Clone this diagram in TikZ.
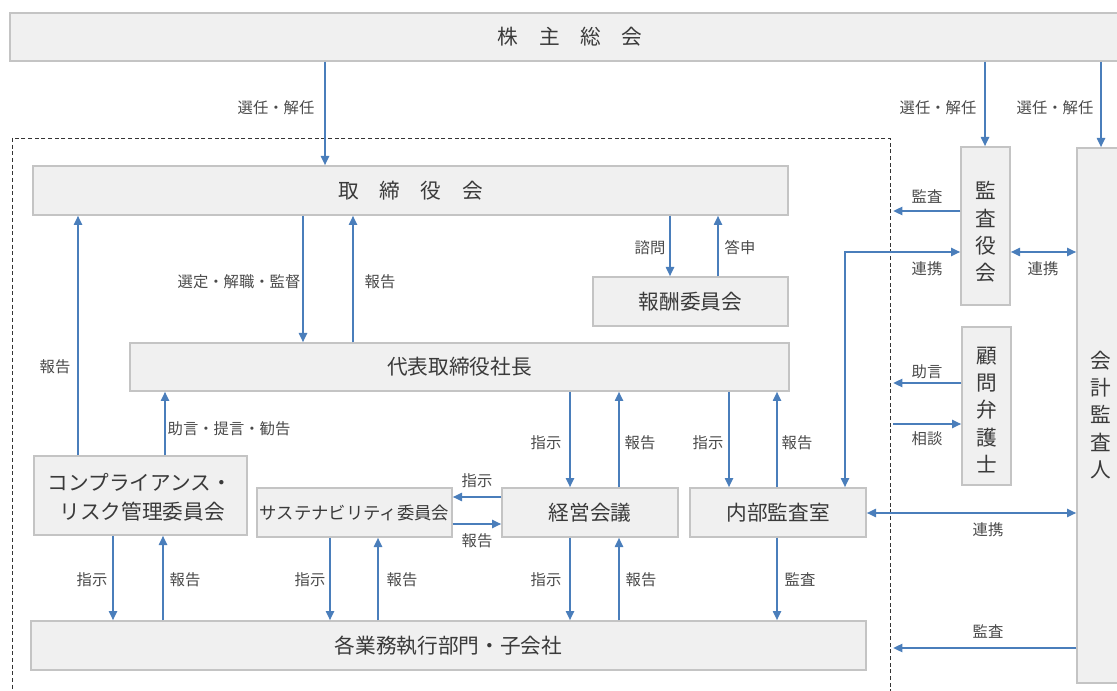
\documentclass[tikz,border=0pt]{standalone}
\usepackage{fontspec}
\setmainfont{Noto Sans CJK JP}
\usetikzlibrary{arrows.meta,fit}
\definecolor{boxfill}{HTML}{F0F0F0}
\definecolor{boxline}{HTML}{C4C4C4}
\definecolor{arrblue}{HTML}{4A7EBB}
\definecolor{txt}{HTML}{3A3A3A}
\definecolor{labtxt}{HTML}{4A4A4A}
\tikzset{
  box/.style={draw=boxline, fill=boxfill, line width=1pt, inner sep=0pt},
  btext/.style={text=txt, inner sep=0pt, font=\fontsize{15.5}{22}\selectfont},
  vtext/.style={btext, align=center, font=\fontsize{15.5}{20.5}\selectfont},
  arr/.style={draw=arrblue, line width=1.7pt, -{Triangle[length=7pt,width=6pt]}},
  darr/.style={draw=arrblue, line width=1.7pt, {Triangle[length=7pt,width=6pt]}-{Triangle[length=7pt,width=6pt]}},
  lab/.style={text=labtxt, font=\fontsize{11.5}{13}\selectfont, inner sep=0pt},
  frame/.style={draw=black!80, line width=0.6pt, densely dashed}
}
\begin{document}
\begin{tikzpicture}[x=0.75pt,y=-0.75pt]
\useasboundingbox (0,0) rectangle (1117,691);
\draw[frame] (12,138) rectangle (890,700);
% boxes
\node[box, fit={(10,13) (1125,61)}] (kabu) {};
\node[box, fit={(33,166) (788,215)}] (tori) {};
\node[box, fit={(593,277) (788,326)}] (hoshu) {};
\node[box, fit={(130,343) (789,391)}] (daihyo) {};
\node[box, fit={(34,456) (247,535)}] (comp) {};
\node[box, fit={(257,488) (452,537)}] (sust) {};
\node[box, fit={(502,488) (678,537)}] (keiei) {};
\node[box, fit={(690,488) (866,537)}] (naibu) {};
\node[box, fit={(31,621) (866,670)}] (kaku) {};
\node[box, fit={(961,147) (1010,305)}] (kansa) {};
\node[box, fit={(962,327) (1011,485)}] (komon) {};
\node[box, fit={(1077,148) (1125,683)}] (kaikei) {};
% box texts
\node[btext] (kabu-t) at (570,37) {株　主　総　会};
\node[btext] (tori-t) at (tori.center) {取　締　役　会};
\node[btext] (hoshu-t) at (hoshu.center) {報酬委員会};
\node[btext] (daihyo-t) at (daihyo.center) {代表取締役社長};
\node[btext] (comp-t1) at (140,482) {コンプライアンス・};
\node[btext] (comp-t2) at (142,512) {リスク管理委員会};
\node[btext, font=\fontsize{13}{16}\selectfont] (sust-t) at (sust.center) {サステナビリティ委員会};
\node[btext] (keiei-t) at (keiei.center) {経営会議};
\node[btext] (naibu-t) at (naibu.center) {内部監査室};
\node[btext] (kaku-t) at (kaku.center) {各業務執行部門・子会社};
\node[vtext] (kansa-t) at (985.5,232) {監\\査\\役\\会};
\node[vtext] (komon-t) at (986.5,410) {顧\\問\\弁\\護\\士};
\node[vtext] (kaikei-t) at (1101,415) {会\\計\\監\\査\\人};
% free ends
\coordinate (f1) at (893,211);
\coordinate (f2) at (893,383);
\coordinate (f3) at (893,424);
\coordinate (f4) at (893,648);
% arrows from 株主総会
\draw[arr] (kabu.south -| 325,0) -- (tori.north -| 325,0);
\draw[arr] (kabu.south -| 985,0) -- (kansa.north -| 985,0);
\draw[arr] (kabu.south -| 1101,0) -- (kaikei.north -| 1101,0);
% right side
\draw[arr] (kansa.west |- f1) -- (f1);
\draw[darr] (kansa.west |- 0,252) -| (naibu.north -| 845,0);
\draw[darr] (kansa.east |- 0,252) -- (kaikei.west |- 0,252);
\draw[arr] (komon.west |- f2) -- (f2);
\draw[arr] (f3) -- (komon.west |- f3);
\draw[darr] (naibu.east |- 0,513) -- (kaikei.west |- 0,513);
\draw[arr] (kaikei.west |- f4) -- (f4);
% board
\draw[arr] (tori.south -| 303,0) -- (daihyo.north -| 303,0);
\draw[arr] (daihyo.north -| 353,0) -- (tori.south -| 353,0);
\draw[arr] (tori.south -| 670,0) -- (hoshu.north -| 670,0);
\draw[arr] (hoshu.north -| 718,0) -- (tori.south -| 718,0);
% compliance
\draw[arr] (comp.north -| 78,0) -- (tori.south -| 78,0);
\draw[arr] (comp.north -| 165,0) -- (daihyo.south -| 165,0);
\draw[arr] (comp.south -| 113,0) -- (kaku.north -| 113,0);
\draw[arr] (kaku.north -| 163,0) -- (comp.south -| 163,0);
% sustainability
\draw[arr] (sust.south -| 330,0) -- (kaku.north -| 330,0);
\draw[arr] (kaku.north -| 378,0) -- (sust.south -| 378,0);
\draw[arr] (keiei.west |- 0,497) -- (sust.east |- 0,497);
\draw[arr] (sust.east |- 0,524) -- (keiei.west |- 0,524);
% president
\draw[arr] (daihyo.south -| 570,0) -- (keiei.north -| 570,0);
\draw[arr] (keiei.north -| 619,0) -- (daihyo.south -| 619,0);
\draw[arr] (daihyo.south -| 729,0) -- (naibu.north -| 729,0);
\draw[arr] (naibu.north -| 777,0) -- (daihyo.south -| 777,0);
% to departments
\draw[arr] (keiei.south -| 570,0) -- (kaku.north -| 570,0);
\draw[arr] (kaku.north -| 619,0) -- (keiei.south -| 619,0);
\draw[arr] (naibu.south -| 777,0) -- (kaku.north -| 777,0);
% labels
\node[lab] (l1) at (276,108) {選任・解任};
\node[lab] (l2) at (938,108) {選任・解任};
\node[lab] (l3) at (1055,108) {選任・解任};
\node[lab] (l4) at (927,197) {監査};
\node[lab] (l5) at (927,269) {連携};
\node[lab] (l6) at (1043,269) {連携};
\node[lab] (l7) at (927,372) {助言};
\node[lab] (l8) at (927,439) {相談};
\node[lab] (l9) at (988,530) {連携};
\node[lab] (l10) at (988,632) {監査};
\node[lab] (l11) at (239,282) {選定・解職・監督};
\node[lab] (l12) at (380,282) {報告};
\node[lab] (l13) at (650,248) {諮問};
\node[lab] (l14) at (740,248) {答申};
\node[lab] (l15) at (55,367) {報告};
\node[lab] (l16) at (229,429) {助言・提言・勧告};
\node[lab] (l17) at (92,580) {指示};
\node[lab] (l18) at (185,580) {報告};
\node[lab] (l19) at (310,580) {指示};
\node[lab] (l20) at (402,580) {報告};
\node[lab] (l21) at (477,481) {指示};
\node[lab] (l22) at (477,541) {報告};
\node[lab] (l23) at (546,443) {指示};
\node[lab] (l24) at (640,443) {報告};
\node[lab] (l25) at (708,443) {指示};
\node[lab] (l26) at (797,443) {報告};
\node[lab] (l27) at (546,580) {指示};
\node[lab] (l28) at (641,580) {報告};
\node[lab] (l29) at (800,580) {監査};
\end{tikzpicture}
\end{document}
